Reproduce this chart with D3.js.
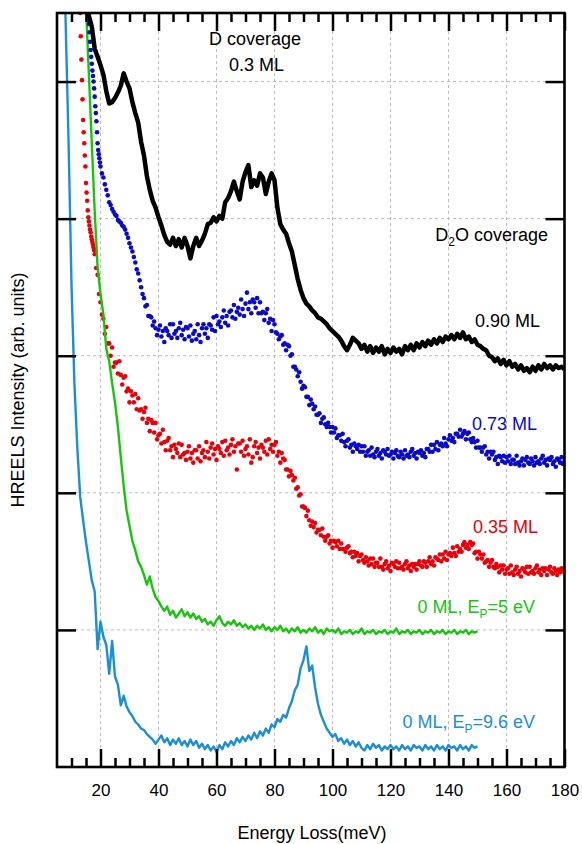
<!DOCTYPE html>
<html>
<head>
<meta charset="utf-8">
<script src="https://cdn.jsdelivr.net/npm/d3@7"></script>
<style>
  body { margin: 0; background: #fff; }
  text { font-family: "Liberation Sans", Arial, sans-serif; }
</style>
</head>
<body>
<svg id="chart" width="582" height="844"></svg>
<script>
// ---- Axis settings ----
const xDomain = [5, 180];
const yDomain = [0, 5.5];
const xMajorTicks = [20, 40, 60, 80, 100, 120, 140, 160, 180];
const xMinorTicks = [10, 15, 25, 30, 35, 45, 50, 55, 65, 70, 75, 85, 90, 95, 105, 110, 115, 125, 130, 135, 145, 150, 155, 165, 170, 175];
const xGrid = [20, 40, 60, 80, 100, 120, 140, 160];
const yTicks = [1, 2, 3, 4, 5];

// ---- Spectra (energy grid: start, step in meV; intensity in offset arb. units) ----
// 0.90 ML D2O (black line)
const black090Start = 15, black090Step = 1;
const black090 = [
  5.75, 5.48, 5.40, 5.24, 5.18, 5.12, 5.05, 4.93, 4.84, 4.85,
  4.88, 4.92, 4.97, 5.06, 5.00, 4.95, 4.85, 4.77, 4.70, 4.56,
  4.46, 4.31, 4.21, 4.13, 4.08, 4.01, 3.95, 3.88, 3.83, 3.81,
  3.86, 3.80, 3.85, 3.79, 3.86, 3.80, 3.71, 3.80, 3.86, 3.80,
  3.84, 3.89, 3.96, 3.97, 4.01, 3.98, 4.02, 4.00, 4.12, 4.15,
  4.20, 4.27, 4.20, 4.14, 4.27, 4.34, 4.39, 4.23, 4.28, 4.24,
  4.33, 4.30, 4.18, 4.27, 4.33, 4.28, 4.08, 3.96, 3.92, 3.89,
  3.82, 3.76, 3.66, 3.56, 3.48, 3.42, 3.38, 3.36, 3.33, 3.31,
  3.28, 3.27, 3.25, 3.23, 3.20, 3.18, 3.16, 3.14, 3.11, 3.07,
  3.04, 3.08, 3.13, 3.11, 3.09, 3.05, 3.08, 3.03, 3.07, 3.02,
  3.06, 3.03, 3.07, 3.01, 3.05, 3.02, 3.06, 3.03, 3.05, 3.01,
  3.07, 3.04, 3.08, 3.04, 3.09, 3.06, 3.10, 3.07, 3.11, 3.08,
  3.12, 3.09, 3.13, 3.10, 3.14, 3.12, 3.15, 3.12, 3.16, 3.13,
  3.17, 3.12, 3.14, 3.10, 3.12, 3.08, 3.07, 3.05, 3.04, 3.00,
  2.99, 2.96, 2.98, 2.94, 2.97, 2.93, 2.96, 2.92, 2.94, 2.90,
  2.93, 2.89, 2.91, 2.88, 2.92, 2.89, 2.93, 2.90, 2.94, 2.91,
  2.93, 2.90, 2.93, 2.91, 2.92, 2.90
];

// 0.73 ML D2O (blue dots): dense steep head, then main scan
const blue073HeadStart = 15.8, blue073HeadStep = 0.2;
const blue073Head = [
  5.48, 5.42, 5.36, 5.29, 5.23, 5.18, 5.13, 5.08, 5.04, 5.00,
  4.95, 4.89, 4.82, 4.77, 4.71, 4.63, 4.55, 4.50, 4.47, 4.44, 4.41
];
const blue073Start = 20, blue073Step = 0.5;
const blue073 = [
  4.38, 4.33, 4.30, 4.25, 4.21, 4.17, 4.12, 4.10, 4.07, 4.05,
  4.03, 4.02, 3.99, 3.98, 3.97, 3.95, 3.94, 3.92, 3.89, 3.86,
  3.82, 3.79, 3.76, 3.72, 3.68, 3.63, 3.60, 3.55, 3.50, 3.45,
  3.42, 3.36, 3.37, 3.29, 3.29, 3.28, 3.22, 3.25, 3.20, 3.15,
  3.19, 3.22, 3.14, 3.18, 3.10, 3.20, 3.18, 3.15, 3.23, 3.13,
  3.23, 3.16, 3.18, 3.13, 3.20, 3.24, 3.15, 3.19, 3.12, 3.21,
  3.20, 3.14, 3.22, 3.11, 3.16, 3.18, 3.12, 3.23, 3.15, 3.10,
  3.20, 3.23, 3.16, 3.20, 3.13, 3.23, 3.22, 3.19, 3.28, 3.18,
  3.29, 3.23, 3.25, 3.21, 3.28, 3.33, 3.24, 3.29, 3.22, 3.32,
  3.33, 3.28, 3.37, 3.27, 3.32, 3.35, 3.30, 3.41, 3.34, 3.29,
  3.38, 3.46, 3.34, 3.39, 3.31, 3.41, 3.39, 3.35, 3.42, 3.31,
  3.39, 3.31, 3.32, 3.26, 3.31, 3.34, 3.24, 3.27, 3.18, 3.26,
  3.23, 3.17, 3.16, 3.12, 3.14, 3.15, 3.08, 3.09, 3.04, 3.08,
  3.07, 3.00, 3.01, 2.92, 2.92, 2.90, 2.85, 2.88, 2.81, 2.76,
  2.78, 2.77, 2.70, 2.70, 2.64, 2.68, 2.65, 2.61, 2.63, 2.57,
  2.57, 2.58, 2.51, 2.54, 2.55, 2.50, 2.48, 2.51, 2.48, 2.44,
  2.48, 2.44, 2.47, 2.40, 2.42, 2.42, 2.38, 2.43, 2.37, 2.34,
  2.38, 2.39, 2.33, 2.35, 2.30, 2.36, 2.34, 2.32, 2.35, 2.30,
  2.34, 2.30, 2.34, 2.27, 2.30, 2.31, 2.27, 2.33, 2.28, 2.26,
  2.30, 2.32, 2.27, 2.29, 2.25, 2.31, 2.30, 2.28, 2.32, 2.27,
  2.28, 2.30, 2.25, 2.29, 2.31, 2.27, 2.26, 2.30, 2.28, 2.25,
  2.31, 2.27, 2.28, 2.26, 2.30, 2.32, 2.27, 2.29, 2.25, 2.30,
  2.29, 2.31, 2.27, 2.29, 2.26, 2.32, 2.32, 2.30, 2.35, 2.30,
  2.35, 2.32, 2.37, 2.31, 2.35, 2.36, 2.34, 2.40, 2.36, 2.34,
  2.39, 2.42, 2.38, 2.40, 2.37, 2.43, 2.43, 2.41, 2.46, 2.41,
  2.43, 2.45, 2.39, 2.43, 2.44, 2.39, 2.37, 2.40, 2.37, 2.33,
  2.38, 2.33, 2.33, 2.30, 2.33, 2.34, 2.28, 2.30, 2.25, 2.30,
  2.28, 2.30, 2.24, 2.26, 2.21, 2.27, 2.26, 2.23, 2.27, 2.22,
  2.26, 2.23, 2.27, 2.21, 2.24, 2.24, 2.21, 2.27, 2.22, 2.20,
  2.23, 2.25, 2.20, 2.24, 2.26, 2.22, 2.21, 2.25, 2.23, 2.20,
  2.26, 2.22, 2.23, 2.21, 2.25, 2.27, 2.22, 2.24, 2.20, 2.25,
  2.24, 2.26, 2.21, 2.23, 2.19, 2.25, 2.24, 2.22, 2.26, 2.21,
  2.23
];

// 0.35 ML D2O (red dots)
const red035HeadStart = 12.8, red035HeadStep = 0.2;
const red035Head = [
  5.62, 5.50, 5.33, 5.16, 5.01, 4.87, 4.72, 4.63, 4.55, 4.46,
  4.38, 4.26, 4.19, 4.13, 4.06, 4.01, 3.98, 3.95, 3.92, 3.90,
  3.87, 3.85, 3.83, 3.81, 3.79, 3.77
];
const red035Start = 18, red035Step = 0.5;
const red035 = [
  3.74, 3.64, 3.59, 3.45, 3.39, 3.30, 3.27, 3.16, 3.21, 3.09,
  3.09, 3.00, 3.06, 2.92, 2.95, 2.95, 2.87, 2.96, 2.86, 2.79,
  2.84, 2.85, 2.74, 2.76, 2.66, 2.74, 2.71, 2.66, 2.72, 2.61,
  2.69, 2.60, 2.61, 2.54, 2.59, 2.62, 2.51, 2.54, 2.45, 2.53,
  2.51, 2.44, 2.51, 2.39, 2.42, 2.43, 2.36, 2.46, 2.37, 2.31,
  2.38, 2.40, 2.31, 2.34, 2.26, 2.35, 2.32, 2.29, 2.36, 2.26,
  2.35, 2.28, 2.29, 2.24, 2.30, 2.34, 2.25, 2.29, 2.22, 2.31,
  2.31, 2.25, 2.34, 2.23, 2.29, 2.31, 2.26, 2.37, 2.30, 2.25,
  2.33, 2.36, 2.28, 2.32, 2.24, 2.34, 2.32, 2.29, 2.37, 2.27,
  2.38, 2.31, 2.33, 2.28, 2.35, 2.39, 2.30, 2.34, 2.17, 2.36,
  2.36, 2.30, 2.38, 2.27, 2.32, 2.34, 2.28, 2.39, 2.22, 2.26,
  2.34, 2.37, 2.29, 2.33, 2.25, 2.35, 2.33, 2.30, 2.38, 2.28,
  2.39, 2.32, 2.35, 2.30, 2.35, 2.37, 2.27, 2.30, 2.22, 2.29,
  2.25, 2.24, 2.17, 2.17, 2.12, 2.16, 2.13, 2.09, 2.11, 2.03,
  2.04, 1.98, 1.99, 1.90, 1.90, 1.89, 1.83, 1.87, 1.80, 1.76,
  1.79, 1.75, 1.78, 1.71, 1.73, 1.73, 1.69, 1.74, 1.68, 1.65,
  1.68, 1.69, 1.63, 1.65, 1.60, 1.65, 1.64, 1.61, 1.65, 1.59,
  1.63, 1.59, 1.59, 1.57, 1.60, 1.61, 1.56, 1.57, 1.53, 1.57,
  1.54, 1.56, 1.50, 1.54, 1.55, 1.51, 1.49, 1.53, 1.50, 1.47,
  1.52, 1.48, 1.52, 1.46, 1.49, 1.49, 1.46, 1.52, 1.46, 1.44,
  1.48, 1.50, 1.45, 1.47, 1.43, 1.49, 1.48, 1.46, 1.50, 1.45,
  1.49, 1.45, 1.46, 1.44, 1.48, 1.50, 1.45, 1.47, 1.43, 1.48,
  1.46, 1.48, 1.44, 1.48, 1.50, 1.47, 1.46, 1.50, 1.49, 1.46,
  1.50, 1.53, 1.48, 1.50, 1.47, 1.53, 1.52, 1.51, 1.55, 1.50,
  1.55, 1.52, 1.57, 1.51, 1.55, 1.56, 1.54, 1.60, 1.56, 1.54,
  1.61, 1.57, 1.59, 1.57, 1.62, 1.64, 1.60, 1.62, 1.59, 1.64,
  1.62, 1.63, 1.56, 1.57, 1.52, 1.57, 1.55, 1.52, 1.55, 1.49,
  1.50, 1.51, 1.46, 1.49, 1.51, 1.46, 1.45, 1.48, 1.46, 1.42,
  1.47, 1.44, 1.47, 1.41, 1.44, 1.45, 1.41, 1.47, 1.42, 1.40,
  1.44, 1.46, 1.41, 1.43, 1.39, 1.45, 1.44, 1.42, 1.46, 1.41,
  1.46, 1.42, 1.43, 1.41, 1.45, 1.47, 1.42, 1.44, 1.40, 1.45,
  1.43, 1.45, 1.40, 1.44, 1.46, 1.42, 1.41, 1.45, 1.43, 1.40,
  1.44, 1.42, 1.45, 1.43, 1.42
];

// clean surface, Ep = 5 eV (green line)
const clean5Start = 15, clean5Step = 1;
const clean5 = [
  5.55, 5.05, 4.55, 4.05, 3.65, 3.45, 3.30, 3.05, 2.96, 2.80,
  2.66, 2.48, 2.26, 2.05, 1.87, 1.76, 1.65, 1.58, 1.50, 1.46,
  1.40, 1.33, 1.39, 1.30, 1.24, 1.21, 1.17, 1.14, 1.17, 1.11,
  1.14, 1.09, 1.12, 1.15, 1.10, 1.13, 1.09, 1.12, 1.08, 1.10,
  1.06, 1.08, 1.04, 1.06, 1.03, 1.07, 1.10, 1.05, 1.03, 1.06,
  1.04, 1.07, 1.03, 1.05, 1.02, 1.04, 1.01, 1.03, 1.00, 1.03,
  1.01, 1.04, 1.00, 1.02, 0.99, 1.02, 1.00, 1.03, 0.99, 1.01,
  0.98, 1.01, 0.99, 1.02, 0.98, 1.00, 0.98, 1.01, 0.99, 1.02,
  0.98, 1.00, 0.97, 1.01, 0.99, 1.00, 0.98, 1.01, 0.97, 0.99,
  0.98, 1.00, 0.97, 0.99, 0.98, 1.01, 0.97, 0.99, 0.98, 1.00,
  0.97, 0.99, 0.98, 1.00, 0.97, 0.99, 0.98, 1.01, 0.97, 0.99,
  0.98, 1.00, 0.97, 0.99, 0.98, 1.00, 0.97, 0.99, 0.98, 1.00,
  0.97, 0.99, 0.98, 1.00, 0.97, 0.99, 0.98, 1.00, 0.97, 0.99,
  0.98, 1.00, 0.97, 0.99, 0.98, 0.99
];

// clean surface, Ep = 9.6 eV (light-blue line)
const clean96Start = 7, clean96Step = 1;
const clean96 = [
  6.30, 5.42, 4.55, 3.52, 2.80, 2.33, 1.97, 1.80, 1.64, 1.50,
  1.36, 1.28, 0.86, 1.06, 0.95, 0.89, 0.68, 0.92, 0.66, 0.60,
  0.45, 0.52, 0.44, 0.40, 0.37, 0.33, 0.31, 0.28, 0.27, 0.24,
  0.22, 0.20, 0.17, 0.20, 0.23, 0.18, 0.21, 0.16, 0.20, 0.17,
  0.21, 0.16, 0.19, 0.15, 0.20, 0.16, 0.19, 0.14, 0.17, 0.13,
  0.16, 0.12, 0.15, 0.11, 0.16, 0.13, 0.18, 0.15, 0.19, 0.16,
  0.21, 0.18, 0.22, 0.19, 0.23, 0.20, 0.25, 0.21, 0.26, 0.23,
  0.28, 0.25, 0.31, 0.29, 0.35, 0.33, 0.38, 0.36, 0.43, 0.48,
  0.56, 0.60, 0.72, 0.78, 0.88, 0.70, 0.74, 0.58, 0.46, 0.38,
  0.33, 0.28, 0.25, 0.22, 0.24, 0.19, 0.21, 0.17, 0.20, 0.16,
  0.19, 0.15, 0.18, 0.14, 0.12, 0.16, 0.13, 0.17, 0.14, 0.16,
  0.12, 0.15, 0.13, 0.16, 0.13, 0.15, 0.12, 0.16, 0.13, 0.15,
  0.12, 0.16, 0.14, 0.15, 0.12, 0.16, 0.13, 0.15, 0.12, 0.16,
  0.13, 0.15, 0.12, 0.16, 0.14, 0.15, 0.12, 0.16, 0.13, 0.15,
  0.12, 0.16, 0.14, 0.15
];

// ---- Layout ----
const svg = d3.select("#chart");
const plot = { left: 57, right: 564.5, top: 13, bottom: 767 };

const x = d3.scaleLinear().domain(xDomain).range([plot.left, plot.right]);
const y = d3.scaleLinear().domain(yDomain).range([plot.bottom, plot.top]);

const colors = {
  black: "#000000",
  blue: "#0a0ac8",
  red: "#e8000a",
  green: "#18c40e",
  teal: "#1b8fd2"
};

function toPoints(start, step, vals) {
  return vals.map((v, i) => ({ e: +(start + i * step).toFixed(2), v }));
}

svg.append("defs").append("clipPath").attr("id", "plot-clip")
  .append("rect")
  .attr("x", plot.left).attr("y", plot.top)
  .attr("width", plot.right - plot.left).attr("height", plot.bottom - plot.top);

// Grid
const grid = svg.append("g").attr("stroke", "#bcbcbc").attr("stroke-width", 1).attr("stroke-dasharray", "3,3");
grid.selectAll("line.vx").data(xGrid).join("line")
  .attr("x1", d => x(d)).attr("x2", d => x(d))
  .attr("y1", plot.top).attr("y2", plot.bottom);
grid.selectAll("line.hy").data(yTicks).join("line")
  .attr("x1", plot.left).attr("x2", plot.right)
  .attr("y1", d => y(d)).attr("y2", d => y(d));

const data = svg.append("g").attr("clip-path", "url(#plot-clip)");
const line = d3.line().x(d => x(d.e)).y(d => y(d.v));

// Ep = 9.6 eV clean
data.append("path").datum(toPoints(clean96Start, clean96Step, clean96))
  .attr("d", line).attr("fill", "none").attr("stroke", colors.teal)
  .attr("stroke-width", 2.4).attr("stroke-linejoin", "round");

// 0.35 ML dots
const redPts = toPoints(red035HeadStart, red035HeadStep, red035Head)
  .concat(toPoints(red035Start, red035Step, red035));
data.append("g").attr("fill", colors.red)
  .selectAll("circle").data(redPts).join("circle")
  .attr("cx", d => x(d.e)).attr("cy", d => y(d.v)).attr("r", 2.3);

// Ep = 5 eV clean
data.append("path").datum(toPoints(clean5Start, clean5Step, clean5))
  .attr("d", line).attr("fill", "none").attr("stroke", colors.green)
  .attr("stroke-width", 2.4).attr("stroke-linejoin", "round");

// 0.73 ML dots
const bluePts = toPoints(blue073HeadStart, blue073HeadStep, blue073Head)
  .concat(toPoints(blue073Start, blue073Step, blue073));
data.append("g").attr("fill", colors.blue)
  .selectAll("circle").data(bluePts).join("circle")
  .attr("cx", d => x(d.e)).attr("cy", d => y(d.v)).attr("r", 2.3);

// 0.90 ML
data.append("path").datum(toPoints(black090Start, black090Step, black090))
  .attr("d", line).attr("fill", "none").attr("stroke", colors.black)
  .attr("stroke-width", 4.5).attr("stroke-linejoin", "round");

// ---- Axes (inward ticks on all four sides) ----
function styleAxis(g) {
  g.select(".domain").remove();
  g.selectAll(".tick line").attr("stroke", "#000").attr("stroke-width", 2.5);
}

svg.append("g").attr("transform", `translate(0,${plot.bottom})`)
  .call(d3.axisBottom(x).tickValues(xMajorTicks).tickSize(-18).tickPadding(17).tickFormat(d3.format("d")))
  .call(styleAxis)
  .call(g => g.selectAll(".tick text").attr("font-size", 17).attr("fill", "#000")
    .attr("font-family", "Liberation Sans, Arial, sans-serif"));
svg.append("g").attr("transform", `translate(0,${plot.bottom})`)
  .call(d3.axisBottom(x).tickValues(xMinorTicks).tickSize(-9).tickFormat(""))
  .call(styleAxis);
svg.append("g").attr("transform", `translate(0,${plot.top})`)
  .call(d3.axisTop(x).tickValues(xMajorTicks).tickSize(-18).tickFormat(""))
  .call(styleAxis);
svg.append("g").attr("transform", `translate(0,${plot.top})`)
  .call(d3.axisTop(x).tickValues(xMinorTicks).tickSize(-9).tickFormat(""))
  .call(styleAxis);
svg.append("g").attr("transform", `translate(${plot.left},0)`)
  .call(d3.axisLeft(y).tickValues(yTicks).tickSize(-19).tickFormat(""))
  .call(styleAxis);
svg.append("g").attr("transform", `translate(${plot.right},0)`)
  .call(d3.axisRight(y).tickValues(yTicks).tickSize(-19).tickFormat(""))
  .call(styleAxis);

// Frame
svg.append("rect")
  .attr("x", plot.left).attr("y", plot.top)
  .attr("width", plot.right - plot.left).attr("height", plot.bottom - plot.top)
  .attr("fill", "none").attr("stroke", "#000").attr("stroke-width", 2.6);

// ---- Axis titles ----
svg.append("text")
  .attr("x", 312).attr("y", 839).attr("text-anchor", "middle")
  .attr("font-size", 18).text("Energy Loss(meV)");
svg.append("text")
  .attr("transform", "translate(24,390) rotate(-90)").attr("text-anchor", "middle")
  .attr("font-size", 18).text("HREELS Intensity (arb. units)");

// ---- Annotations ----
const ann = svg.append("g").attr("font-size", 18);
ann.append("text").attr("x", 255).attr("y", 45).attr("text-anchor", "middle").text("D coverage");
ann.append("text").attr("x", 256.5).attr("y", 71).attr("text-anchor", "middle").text("0.3 ML");

const d2o = ann.append("text").attr("x", 548).attr("y", 241).attr("text-anchor", "end");
d2o.append("tspan").text("D");
d2o.append("tspan").attr("dy", 5).attr("font-size", 12).text("2");
d2o.append("tspan").attr("dy", -5).text("O coverage");

ann.append("text").attr("x", 540).attr("y", 327).attr("text-anchor", "end").text("0.90 ML");
ann.append("text").attr("x", 537).attr("y", 430).attr("text-anchor", "end")
  .attr("fill", colors.blue).text("0.73 ML");
ann.append("text").attr("x", 538).attr("y", 533).attr("text-anchor", "end")
  .attr("fill", colors.red).text("0.35 ML");

function epLabel(xp, yp, color, value) {
  const t = ann.append("text").attr("x", xp).attr("y", yp).attr("text-anchor", "end").attr("fill", color);
  t.append("tspan").text("0 ML, E");
  t.append("tspan").attr("dy", 5).attr("font-size", 12).text("P");
  t.append("tspan").attr("dy", -5).text("=" + value + " eV");
}
epLabel(535, 613, colors.green, "5");
epLabel(535, 728, colors.teal, "9.6");
</script>
</body>
</html>
